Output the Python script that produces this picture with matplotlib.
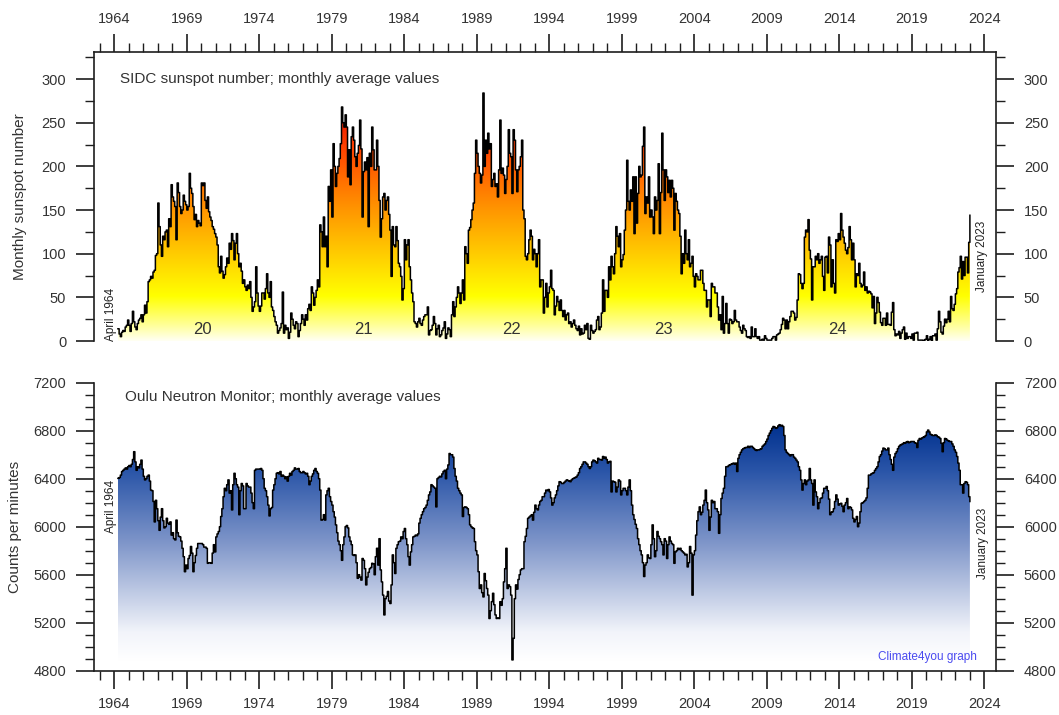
import numpy as np
import matplotlib
matplotlib.use("Agg")
import matplotlib.pyplot as plt
from matplotlib.colors import LinearSegmentedColormap
from matplotlib.ticker import MultipleLocator

# ---------------- data: SIDC monthly sunspot number (April 1964 - January 2023)
ssn_1964_1969 = [
    14, 8, 5, 10, 12, 11, 16, 18, 24,
    18, 11, 20, 34, 22, 16, 13, 20, 24, 26, 30, 22,
    30, 41, 32, 45, 68, 70, 74, 72, 79, 81, 98, 100,
    158, 131, 110, 97, 120, 116, 125, 127, 108, 140, 131, 179,
    165, 160, 154, 116, 181, 170, 154, 146, 150, 167, 160, 156,
    150, 154, 192, 175, 169, 154, 139, 145, 131, 138, 135, 132]
ssn_1970s = [
    181, 178, 181, 161, 152, 165, 148, 142, 138, 131, 128, 123,
    119, 110, 85, 78, 97, 80, 72, 76, 85, 95, 89, 112,
    105, 123, 115, 93, 112, 123, 100, 85, 89, 80, 66, 70,
    62, 58, 64, 60, 68, 50, 34, 39, 45, 85, 55, 40,
    34, 40, 55, 55, 48, 60, 77, 55, 50, 68, 39, 35,
    28, 22, 18, 9, 12, 15, 20, 56, 9, 18, 13, 15,
    3, 10, 32, 25, 18, 14, 22, 20, 5, 12, 20, 30,
    25, 18, 30, 24, 37, 42, 35, 62, 55, 41, 50, 58,
    70, 62, 133, 125, 108, 142, 108, 120, 85, 177, 160, 196,
    142, 226, 200, 177, 192, 200, 209, 226, 268, 250, 245, 259]
ssn_1980s = [
    245, 188, 219, 179, 234, 245, 230, 211, 200, 215, 224, 253,
    220, 142, 194, 205, 196, 210, 131, 215, 200, 245, 219, 196,
    196, 230, 200, 161, 119, 140, 165, 169, 150, 161, 165, 145,
    127, 74, 131, 110, 108, 131, 115, 89, 85, 74, 47, 60,
    116, 93, 110, 116, 85, 70, 55, 45, 22, 20, 16, 22,
    26, 20, 18, 24, 28, 30, 30, 39, 7, 12, 13, 18,
    28, 20, 7, 14, 18, 5, 7, 12, 15, 22, 3, 8,
    15, 13, 5, 30, 45, 28, 39, 50, 62, 55, 43, 55,
    70, 47, 108, 100, 89, 127, 130, 139, 150, 158, 192, 230,
    215, 200, 192, 181, 190, 284, 200, 230, 215, 238, 220, 226]
ssn_1990s = [
    177, 185, 192, 177, 180, 165, 196, 253, 192, 198, 190, 169,
    185, 200, 242, 215, 211, 169, 242, 230, 196, 171, 196, 200,
    211, 230, 150, 140, 97, 93, 100, 116, 127, 120, 93, 105,
    100, 85, 100, 116, 62, 70, 70, 32, 50, 66, 39, 55,
    62, 81, 60, 58, 30, 40, 51, 45, 35, 47, 35, 28,
    35, 24, 30, 32, 20, 22, 16, 20, 24, 18, 14, 12,
    17, 7, 14, 8, 9, 18, 13, 20, 3, 2, 18, 12,
    9, 11, 13, 24, 28, 13, 16, 32, 70, 34, 58, 58,
    50, 85, 70, 97, 85, 77, 100, 131, 120, 108, 123, 85,
    93, 99, 127, 150, 207, 160, 150, 173, 160, 188, 123, 188]
ssn_2000s = [
    135, 169, 200, 188, 190, 223, 245, 146, 165, 158, 188, 142,
    150, 142, 123, 165, 150, 161, 203, 123, 170, 238, 196, 161,
    196, 188, 170, 184, 165, 184, 175, 127, 169, 160, 150, 146,
    120, 77, 100, 89, 127, 100, 93, 116, 85, 89, 97, 74,
    62, 77, 74, 70, 70, 81, 81, 66, 58, 58, 39, 47,
    47, 28, 66, 62, 62, 55, 55, 39, 24, 30, 13, 51,
    9, 20, 43, 20, 9, 25, 24, 20, 22, 35, 24, 22,
    22, 16, 12, 9, 18, 14, 12, 5, 4, 5, 3, 16,
    5, 5, 14, 5, 3, 5, 1, 1, 2, 1, 6, 3,
    1, 1, 1, 1, 3, 5, 5, 1, 7, 8, 9, 13]
ssn_2010s = [
    19, 26, 24, 14, 24, 14, 22, 28, 34, 34, 32, 24,
    27, 47, 77, 76, 66, 60, 66, 119, 127, 125, 139, 104,
    94, 47, 85, 85, 97, 93, 100, 89, 93, 97, 74, 58,
    96, 97, 78, 119, 110, 62, 93, 66, 55, 116, 114, 123,
    116, 146, 127, 119, 112, 104, 100, 107, 131, 116, 93, 112,
    93, 62, 77, 75, 89, 66, 62, 64, 79, 58, 62, 55,
    57, 56, 54, 38, 51, 20, 32, 50, 44, 33, 21, 18,
    26, 26, 18, 32, 19, 19, 18, 33, 44, 13, 6, 8,
    7, 11, 3, 9, 13, 16, 2, 9, 3, 5, 5, 3,
    8, 1, 9, 9, 10, 1, 1, 1, 1, 0, 1, 2]
ssn_2020_2023 = [
    6, 0, 2, 5, 0, 6, 6, 8, 1, 14, 34, 22,
    10, 8, 17, 25, 21, 25, 34, 22, 51, 37, 35, 42,
    54, 60, 79, 84, 97, 71, 91, 75, 96, 96, 78, 113,
    144]

# ---------------- data: Oulu neutron monitor, counts per minute (April 1964 - January 2023)
cpm_1964_1969 = [
    6403, 6410, 6430, 6460, 6470, 6480, 6490, 6480, 6500,
    6510, 6500, 6520, 6560, 6625, 6540, 6470, 6500, 6490, 6520, 6555, 6480,
    6420, 6390, 6400, 6420, 6430, 6380, 6305, 6300, 6210, 6040, 6220, 6150,
    6050, 5970, 6080, 6150, 6050, 5990, 6000, 6070, 6030, 6020, 6040, 5930,
    5950, 5900, 5890, 6055, 5950, 5920, 5915, 5880, 5820, 5750, 5625, 5680,
    5650, 5735, 5760, 5835, 5780, 5625, 5700, 5760, 5820, 5860, 5860, 5860]
cpm_1970s = [
    5860, 5850, 5830, 5830, 5820, 5695, 5700, 5700, 5695, 5780, 5850, 5790,
    5915, 5940, 5960, 6000, 6085, 6150, 6250, 6320, 6300, 6350, 6390, 6280,
    6300, 6140, 6350, 6445, 6400, 6350, 6330, 6100, 6300, 6360, 6340, 6150,
    6150, 6360, 6340, 6330, 6330, 6280, 6200, 6150, 6470, 6480, 6480, 6480,
    6480, 6485, 6470, 6400, 6320, 6300, 6250, 6180, 6090, 6150, 6160, 6305,
    6350, 6400, 6445, 6450, 6440, 6460, 6420, 6430, 6420, 6400, 6415, 6380,
    6420, 6445, 6430, 6460, 6470, 6490, 6480, 6480, 6485, 6460, 6450, 6450,
    6460, 6450, 6440, 6445, 6420, 6350, 6380, 6420, 6440, 6470, 6485, 6460,
    6445, 6400, 6305, 6055, 6060, 6100, 6055, 6265, 6300, 6320, 6250, 6210,
    6180, 6125, 6080, 6015, 5950, 5880, 5850, 5800, 5720, 5850, 5915, 6000]
cpm_1980s = [
    6010, 5990, 5915, 5880, 5850, 5765, 5760, 5765, 5700, 5570, 5600, 5580,
    5555, 5735, 5720, 5650, 5515, 5580, 5620, 5650, 5660, 5695, 5690, 5600,
    5750, 5820, 5680, 5900, 5640, 5540, 5430, 5265, 5400, 5420, 5460, 5380,
    5360, 5515, 5765, 5700, 5610, 5820, 5850, 5875, 5880, 5915, 5900, 5960,
    5985, 5900, 5850, 5750, 5680, 5790, 5850, 5915, 5920, 5930, 5925, 5940,
    6030, 6070, 6100, 6125, 6150, 6160, 6180, 6220, 6265, 6290, 6350, 6340,
    6330, 6320, 6165, 6400, 6410, 6420, 6415, 6440, 6460, 6470, 6400, 6480,
    6515, 6610, 6600, 6600, 6580, 6485, 6420, 6380, 6320, 6300, 6280, 6265,
    6085, 6160, 6165, 6160, 6150, 6100, 6015, 6000, 5990, 5985, 5875, 5800,
    5765, 5625, 5485, 5515, 5450, 5415, 5610, 5550, 5485, 5430, 5235, 5300]
cpm_1990s = [
    5375, 5445, 5350, 5265, 5235, 5240, 5235, 5375, 5345, 5400, 5540, 5650,
    5820, 5485, 5515, 5500, 5430, 4890, 5070, 5400, 5515, 5480, 5560, 5600,
    5640, 5650, 5650, 5875, 5920, 5985, 6070, 6080, 6090, 6100, 6055, 6120,
    6180, 6150, 6140, 6180, 6210, 6220, 6250, 6250, 6280, 6305, 6300, 6310,
    6290, 6240, 6180, 6200, 6240, 6265, 6300, 6340, 6375, 6370, 6360, 6360,
    6370, 6380, 6390, 6385, 6380, 6375, 6390, 6400, 6405, 6410, 6415, 6430,
    6450, 6485, 6500, 6520, 6540, 6540, 6530, 6520, 6500, 6485, 6500, 6540,
    6555, 6550, 6540, 6530, 6570, 6560, 6560, 6555, 6585, 6570, 6580, 6560,
    6530, 6540, 6545, 6290, 6380, 6375, 6370, 6290, 6330, 6390, 6380, 6265,
    6300, 6320, 6320, 6300, 6265, 6330, 6390, 6300, 6180, 6100, 6060, 6020]
cpm_2000s = [
    5985, 5900, 5850, 5800, 5765, 5700, 5585, 5680, 5700, 5765, 5740, 5735,
    5850, 6015, 5900, 5750, 5800, 5960, 5920, 5900, 5875, 5850, 5765, 5900,
    5880, 5735, 5850, 5915, 5880, 5860, 5850, 5695, 5790, 5800, 5820, 5810,
    5820, 5800, 5790, 5780, 5765, 5770, 5665, 5700, 5835, 5780, 5430, 5765,
    5800, 5930, 6050, 6125, 6165, 6100, 6120, 6180, 6220, 6305, 6200, 6140,
    5970, 6080, 6220, 6200, 6210, 6150, 6150, 6125, 5945, 6100, 6235, 6280,
    6320, 6420, 6500, 6500, 6510, 6515, 6520, 6525, 6530, 6520, 6530, 6460,
    6570, 6600, 6620, 6640, 6650, 6655, 6660, 6660, 6670, 6660, 6670, 6670,
    6660, 6650, 6640, 6635, 6640, 6640, 6645, 6650, 6670, 6680, 6690, 6710,
    6730, 6760, 6780, 6800, 6820, 6835, 6830, 6820, 6825, 6840, 6850, 6840]
cpm_2010s = [
    6845, 6835, 6760, 6640, 6620, 6610, 6600, 6590, 6600, 6600, 6580, 6570,
    6555, 6540, 6500, 6470, 6390, 6305, 6360, 6390, 6350, 6380, 6390, 6485,
    6390, 6360, 6180, 6390, 6290, 6250, 6150, 6200, 6235, 6240, 6280, 6320,
    6320, 6335, 6300, 6230, 6100, 6120, 6125, 6150, 6210, 6265, 6230, 6180,
    6190, 6195, 6170, 6125, 6180, 6200, 6235, 6150, 6165, 6160, 6140, 6070,
    6040, 6060, 6085, 6000, 6030, 6125, 6195, 6200, 6210, 6220, 6240, 6320,
    6430, 6430, 6440, 6445, 6450, 6470, 6485, 6500, 6540, 6585, 6600, 6630,
    6655, 6650, 6640, 6640, 6655, 6600, 6560, 6520, 6470, 6580, 6610, 6625,
    6650, 6670, 6680, 6685, 6690, 6700, 6695, 6705, 6710, 6700, 6705, 6710,
    6710, 6710, 6700, 6695, 6660, 6720, 6735, 6730, 6740, 6745, 6750, 6760]
cpm_2020_2023 = [
    6790, 6805, 6790, 6770, 6765, 6760, 6760, 6765, 6760, 6750, 6745, 6735,
    6695, 6625, 6700, 6735, 6730, 6720, 6715, 6710, 6710, 6690, 6670, 6640,
    6620, 6585, 6530, 6470, 6350, 6350, 6280, 6360, 6375, 6370, 6350, 6250,
    6210]

year_ticks = list(range(1964, 2025, 5))
cycle_labels = ["20", "21", "22", "23", "24"]
cycle_years = [1970.05, 1981.17, 1991.41, 2001.86, 2013.89]

ssn = np.array(ssn_1964_1969 + ssn_1970s + ssn_1980s + ssn_1990s + ssn_2000s
               + ssn_2010s + ssn_2020_2023, dtype=float)
cpm = np.array(cpm_1964_1969 + cpm_1970s + cpm_1980s + cpm_1990s + cpm_2000s
               + cpm_2010s + cpm_2020_2023, dtype=float)
t_ssn = 1964.25 + np.arange(len(ssn)) / 12.0
t_cpm = 1964.25 + np.arange(len(cpm)) / 12.0

# ---------------- style
FONT = ["Liberation Sans", "DejaVu Sans"]
NARROW = ["Liberation Sans Narrow", "Liberation Sans", "DejaVu Sans"]
plt.rcParams["font.family"] = FONT
TXT = "#333333"
SPINE = "#1e1e1e"

W, H = 1059, 715
fig = plt.figure(figsize=(W / 100, H / 100), dpi=100)
ax1 = fig.add_axes([94 / W, 1 - 341 / H, 902 / W, 289 / H])
ax2 = fig.add_axes([94 / W, 1 - 670.7 / H, 902 / W, 288 / H])

XLIM = (1962.6, 2024.8)

# value scale 0..270 for the sunspot gradient
sun_cmap = LinearSegmentedColormap.from_list("sun", [
    (0.00, "#FFFFF2"), (0.06, "#FFFFA0"), (0.19, "#FFFF00"),
    (0.37, "#FFCC00"), (0.55, "#FF9800"), (0.70, "#FF6A00"),
    (0.82, "#FF4200"), (0.92, "#F02400"), (1.00, "#DC1000")])
blue_cmap = LinearSegmentedColormap.from_list("oulu", [
    (0.00, "#FFFFFF"), (0.12, "#F2F4FA"), (0.5, "#7E95C9"),
    (0.8, "#2A55A8"), (1.00, "#00308E")])


def gradient_fill(ax, t, v, base, vmin, vmax, cmap):
    poly = ax.fill_between(t, v, base, step="post", facecolor="none",
                           edgecolor="none")
    grad = np.linspace(0, 1, 512).reshape(-1, 1)
    im = ax.imshow(grad, extent=[t[0], t[-1], vmin, vmax], origin="lower",
                   aspect="auto", cmap=cmap, interpolation="bilinear",
                   zorder=1)
    im.set_clip_path(poly.get_paths()[0], transform=ax.transData)
    ax.step(t, v, where="post", color="black", lw=1.1, zorder=3)


# ---------------- top panel
gradient_fill(ax1, t_ssn, ssn, 0, 0, 270, sun_cmap)
ax1.set_xlim(*XLIM)
ax1.set_ylim(0, 331)
ax1.spines["bottom"].set_visible(False)
ax1.xaxis.tick_top()
ax1.set_xticks(year_ticks)
ax1.xaxis.set_minor_locator(MultipleLocator(1))
ax1.yaxis.set_major_locator(MultipleLocator(50))
ax1.yaxis.set_minor_locator(MultipleLocator(25))
ax1.tick_params(axis="x", which="both", top=True, bottom=False,
                labeltop=True, labelbottom=False)
ax1.tick_params(axis="y", which="both", left=True, right=True,
                labelleft=True, labelright=True)

# ---------------- bottom panel
gradient_fill(ax2, t_cpm, cpm, 4800, 4880, 6860, blue_cmap)
ax2.set_xlim(*XLIM)
ax2.set_ylim(4800, 7200)
ax2.spines["top"].set_visible(False)
ax2.set_xticks(year_ticks)
ax2.xaxis.set_minor_locator(MultipleLocator(1))
ax2.yaxis.set_major_locator(MultipleLocator(400))
ax2.yaxis.set_minor_locator(MultipleLocator(100))
ax2.tick_params(axis="y", which="both", left=True, right=True,
                labelleft=True, labelright=True)

for ax in (ax1, ax2):
    for s in ax.spines.values():
        s.set_color(SPINE)
        s.set_linewidth(1.2)
    ax.tick_params(which="major", direction="out", length=13, width=1.2,
                   color=SPINE, labelsize=10.5, labelcolor=TXT)
    ax.tick_params(which="minor", direction="out", length=6.5, width=1.0,
                   color=SPINE)
    ax.tick_params(axis="y", which="major", pad=7)
    ax.tick_params(axis="x", which="major", pad=6)

ax1.set_ylabel("Monthly sunspot number", fontsize=11, color=TXT)
ax1.yaxis.set_label_coords(-0.074, 0.5)
ax2.set_ylabel("Counts per minutes", fontsize=11, color=TXT)
ax2.yaxis.set_label_coords(-0.080, 0.5)

ax1.text(0.029, 0.907, "SIDC sunspot number; monthly average values",
         transform=ax1.transAxes, fontsize=11, color=TXT, va="center",
         ha="left")
ax2.text(0.034, 0.950, "Oulu Neutron Monitor; monthly average values",
         transform=ax2.transAxes, fontsize=11, color=TXT, va="center",
         ha="left")

for lab, yr in zip(cycle_labels, cycle_years):
    ax1.text(yr, 13.7, lab, fontsize=12, color=TXT, ha="center", va="center")

fig.text(111 / W, 1 - 341 / H, "April 1964", rotation=90, ha="center",
         va="bottom", fontsize=8.5, color="#222222", family=NARROW)
fig.text(982 / W, 1 - 256 / H, "January 2023", rotation=90, ha="center",
         va="center", fontsize=8.5, color="#222222", family=NARROW)
fig.text(111 / W, 1 - 506 / H, "April 1964", rotation=90, ha="center",
         va="center", fontsize=8.5, color="#222222", family=NARROW)
fig.text(983 / W, 1 - 543 / H, "January 2023", rotation=90, ha="center",
         va="center", fontsize=8.5, color="#222222", family=NARROW)
fig.text(977 / W, 1 - 657 / H, "Climate4you graph", ha="right", va="center",
         fontsize=8.5, color="#4A4AF0", family=NARROW)

fig.savefig("out.png", dpi=100)
